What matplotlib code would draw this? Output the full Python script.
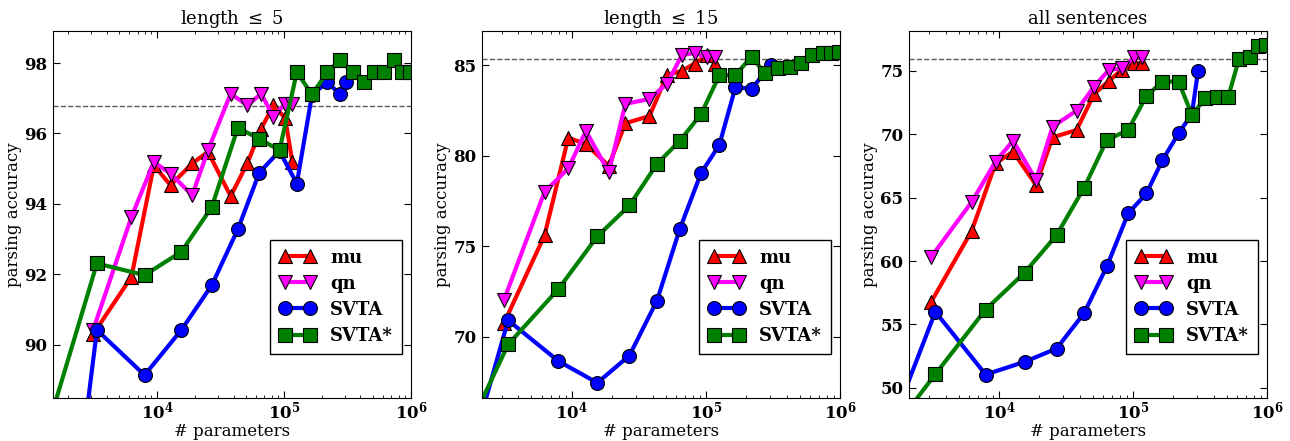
import matplotlib
matplotlib.use('agg')
import matplotlib.pyplot as plt

plt.rcParams['font.family'] = ['DejaVu Serif']
plt.rcParams['mathtext.fontset'] = 'dejavuserif'

# number of parameters (x)
mu_qn_x = [3126, 6266, 9419, 12735, 18880, 25119, 37931, 51286, 66069, 82414, 101860, 116145]
svta_x = [1000, 3350, 7950, 15500, 26900, 43200, 63800, 92000, 126000, 166000, 219000, 275000, 306000]
svta_star_x = [1000, 3350, 7950, 15500, 26900, 43200, 63800, 92000, 126000, 166000, 219000,
               275000, 347000, 427000, 513000, 617000, 741000, 851000, 977000]

titles = ['length $\\leq$ 5', 'length $\\leq$ 15', 'all sentences']

# length <= 5
mu_5 = [90.3, 91.93, 95.1, 94.53, 95.15, 95.48, 94.22, 95.15, 96.14, 96.8, 96.44, 95.19]
qn_5 = [90.42, 93.63, 95.19, 94.86, 94.25, 95.52, 97.13, 96.8, 97.13, 96.47, 96.85, 96.85]
svta_5 = [75.2, 90.42, 89.14, 90.42, 91.69, 93.28, 94.89, 95.5, 94.58, 97.1, 97.46, 97.11, 97.46]
svta_star_5 = [86.0, 92.31, 91.98, 92.64, 93.91, 96.16, 95.85, 95.52, 97.74, 97.11, 97.74,
               98.08, 97.74, 97.46, 97.74, 97.74, 98.08, 97.74, 97.74]

# length <= 15
mu_15 = [70.75, 75.6, 81.0, 80.64, 79.45, 81.8, 82.19, 84.47, 84.69, 85.1, 85.56, 85.1]
qn_15 = [72.04, 78.0, 79.3, 81.37, 79.1, 82.87, 83.14, 83.98, 85.56, 85.69, 85.44, 85.44]
svta_15 = [57.1, 70.9, 68.64, 67.44, 68.95, 71.99, 75.94, 79.04, 80.6, 83.79, 83.7, 84.6, 85.0]
svta_star_15 = [61.3, 69.56, 72.63, 75.54, 77.25, 79.55, 80.82, 82.3, 84.45, 84.47, 85.48,
                84.56, 84.83, 84.93, 85.11, 85.57, 85.7, 85.7, 85.75]

# all sentences
mu_all = [56.8, 62.4, 67.71, 68.63, 66.0, 69.76, 70.34, 73.18, 74.21, 75.08, 75.6, 75.6]
qn_all = [60.34, 64.68, 67.84, 69.5, 66.4, 70.6, 71.87, 73.76, 75.08, 75.2, 76.08, 76.08]
svta_all = [41.6, 56.0, 51.05, 52.05, 53.1, 55.9, 59.58, 63.76, 65.34, 67.97, 70.08, 71.6, 75.0]
svta_star_all = [43.8, 51.08, 56.18, 59.08, 62.05, 65.79, 69.55, 70.34, 73.03, 74.16, 74.16,
                 71.53, 72.84, 72.92, 72.92, 75.92, 76.08, 76.97, 77.05]

baselines = [96.78, 85.36, 75.92]
xlims = [(1510, 1e6), (2140, 1e6), (2130, 1e6)]
ylims = [(88.49, 98.91), (66.6, 86.9), (49.2, 78.15)]
yticks = [[90, 92, 94, 96, 98], [70, 75, 80, 85], [50, 55, 60, 65, 70, 75]]

panels = [(mu_5, qn_5, svta_5, svta_star_5),
          (mu_15, qn_15, svta_15, svta_star_15),
          (mu_all, qn_all, svta_all, svta_star_all)]

lefts = [53, 482, 909]
fig = plt.figure(figsize=(12.9, 4.41), dpi=100)
for i, (mu, qn, svta, svta_star) in enumerate(panels):
    ax = fig.add_axes([lefts[i] / 1290, 43 / 441, 358 / 1290, 367 / 441])
    ax.axhline(baselines[i], color='0.35', linestyle='--', linewidth=1, zorder=1)
    ax.plot(mu_qn_x, mu, color='red', marker='^', ms=10, lw=3, mec='k', mew=0.8, label='mu')
    ax.plot(mu_qn_x, qn, color='magenta', marker='v', ms=10, lw=3, mec='k', mew=0.8, label='qn')
    ax.plot(svta_x, svta, color='blue', marker='o', ms=10, lw=3, mec='k', mew=0.8, label='SVTA')
    ax.plot(svta_star_x, svta_star, color='green', marker='s', ms=9.5, lw=3, mec='k', mew=0.8,
            label='SVTA*')
    ax.set_xscale('log')
    ax.set_xlim(xlims[i])
    ax.set_ylim(ylims[i])
    ax.set_yticks(yticks[i])
    ax.set_title(titles[i], fontsize=13, pad=5)
    ax.set_xlabel('# parameters', fontsize=12, labelpad=0)
    ax.set_ylabel('parsing accuracy', fontsize=12, labelpad=2)
    ax.tick_params(which='both', direction='in', top=True, right=True)
    ax.tick_params(which='major', length=5, labelsize=12)
    ax.tick_params(axis='x', which='major', pad=2)
    ax.tick_params(axis='y', which='major', pad=4)
    ax.tick_params(which='minor', length=2.5)
    for lab in ax.get_xticklabels() + ax.get_yticklabels():
        lab.set_fontweight('bold')
    leg = ax.legend(loc='lower right', bbox_to_anchor=(0.974, 0.12), borderaxespad=0,
                    numpoints=2, handlelength=2, fancybox=False, framealpha=1,
                    prop={'weight': 'bold', 'size': 13}, borderpad=0.5, labelspacing=0.45)
    leg.get_frame().set_edgecolor('k')

plt.savefig('out.png')
plt.close()
